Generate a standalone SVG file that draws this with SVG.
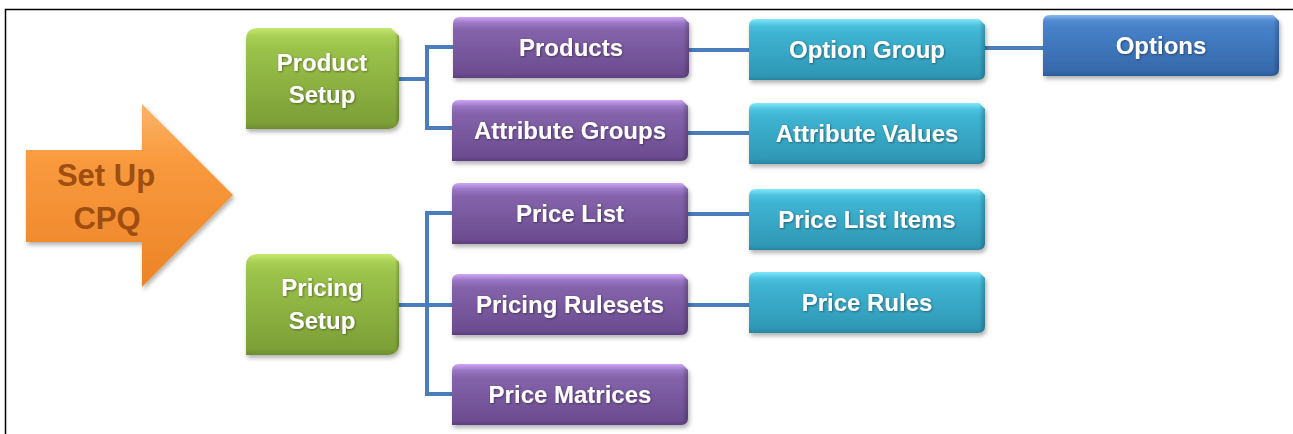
<svg xmlns="http://www.w3.org/2000/svg" xmlns:xlink="http://www.w3.org/1999/xlink" width="1293" height="434" viewBox="0 0 1293 434">
  <style>
    .lbl { font-family: "Liberation Sans", Arial, sans-serif; font-weight: 700; font-size: 24px; fill: #ffffff; text-anchor: middle; filter: url(#tshadow); }
    .big { font-family: "Liberation Sans", Arial, sans-serif; font-weight: 700; font-size: 31px; fill: #9e4e10; text-anchor: middle; }
    .conn { fill: none; stroke: #4a7dbb; stroke-width: 4; stroke-linejoin: miter; }
    .shade { filter: url(#shadow); }
    .edge { fill: url(#gEdge); }
  </style>
  <defs>
    <filter id="shadow" x="-10%" y="-20%" width="125%" height="150%">
      <feDropShadow dx="1.5" dy="3" stdDeviation="2" flood-color="#000" flood-opacity="0.3"/>
    </filter>
    <filter id="tshadow" x="-10%" y="-30%" width="120%" height="160%">
      <feDropShadow dx="0.8" dy="0.8" stdDeviation="0.8" flood-color="#000" flood-opacity="0.45"/>
    </filter>
    <linearGradient id="gEdge" x1="0" y1="0" x2="1" y2="0">
      <stop offset="0" stop-color="#000" stop-opacity="0"/>
      <stop offset="0.975" stop-color="#000" stop-opacity="0"/>
      <stop offset="1" stop-color="#000" stop-opacity="0.22"/>
    </linearGradient>
    <linearGradient id="gPurple" x1="0" y1="0" x2="0" y2="1">
      <stop offset="0" stop-color="#cfa6f5"/>
      <stop offset="0.1" stop-color="#9a78c6"/>
      <stop offset="0.22" stop-color="#8463ab"/>
      <stop offset="0.92" stop-color="#6c4c90"/>
      <stop offset="1" stop-color="#5d3f7f"/>
    </linearGradient>
    <linearGradient id="gTeal" x1="0" y1="0" x2="0" y2="1">
      <stop offset="0" stop-color="#7fe8fb"/>
      <stop offset="0.1" stop-color="#4fc3e0"/>
      <stop offset="0.22" stop-color="#3fb4d3"/>
      <stop offset="0.92" stop-color="#2f98b6"/>
      <stop offset="1" stop-color="#2786a2"/>
    </linearGradient>
    <linearGradient id="gBlue" x1="0" y1="0" x2="0" y2="1">
      <stop offset="0" stop-color="#86b6ee"/>
      <stop offset="0.1" stop-color="#528ad0"/>
      <stop offset="0.22" stop-color="#4680c8"/>
      <stop offset="0.92" stop-color="#3669ab"/>
      <stop offset="1" stop-color="#2c5b98"/>
    </linearGradient>
    <linearGradient id="gGreen" x1="0" y1="0" x2="0" y2="1">
      <stop offset="0" stop-color="#c6e86f"/>
      <stop offset="0.08" stop-color="#a9cf55"/>
      <stop offset="0.2" stop-color="#9bc24a"/>
      <stop offset="0.94" stop-color="#7d9f37"/>
      <stop offset="1" stop-color="#6d8c2e"/>
    </linearGradient>
    <linearGradient id="gOrange" x1="0" y1="0" x2="0" y2="1">
      <stop offset="0" stop-color="#fbb56a"/>
      <stop offset="0.3" stop-color="#f99a3e"/>
      <stop offset="1" stop-color="#ec8326"/>
    </linearGradient>
    <path id="box" d="M7,0 H230 L236,6 V54 Q236,61 229,61 H0 V7 Q0,0 7,0 Z"/>
    <path id="gbox" d="M12,0 H145 L153,8 V89 Q153,101 141,101 H0 V12 Q0,0 12,0 Z"/>
  </defs>

  <rect x="0" y="0" width="1293" height="434" fill="#ffffff"/>
  <path d="M5.5,434 V9.5 H1293" fill="none" stroke="#000" stroke-width="1.5"/>

  <g id="connectors">
    <path class="conn" d="M399,79 H427 M453,47 H427 V128 H453"/>
    <path class="conn" d="M399,305 H427 M452,213 H427 V394 H452 M427,305 H452"/>
    <path class="conn" d="M688,50 H749"/>
    <path class="conn" d="M985,48 H1044"/>
    <path class="conn" d="M688,133 H749"/>
    <path class="conn" d="M688,214 H749"/>
    <path class="conn" d="M688,305 H749"/>
  </g>

  <g id="setup-cpq">
    <polygon class="shade" points="26,150 142,150 142,104 233,195 142,287 142,242 26,242" fill="url(#gOrange)"/>
    <text class="big" x="106" y="186">Set Up</text>
    <text class="big" x="107" y="229">CPQ</text>
  </g>

  <g id="product-setup">
    <use class="shade" xlink:href="#gbox" href="#gbox" x="246" y="28" fill="url(#gGreen)"/>
    <use class="edge" xlink:href="#gbox" href="#gbox" x="246" y="28"/>
    <text class="lbl" x="322" y="71">Product</text>
    <text class="lbl" x="322" y="103">Setup</text>
  </g>

  <g id="pricing-setup">
    <use class="shade" xlink:href="#gbox" href="#gbox" x="246" y="254" fill="url(#gGreen)"/>
    <use class="edge" xlink:href="#gbox" href="#gbox" x="246" y="254"/>
    <text class="lbl" x="322" y="296">Pricing</text>
    <text class="lbl" x="322" y="329">Setup</text>
  </g>

  <g id="products">
    <use class="shade" xlink:href="#box" href="#box" x="453" y="17" fill="url(#gPurple)"/>
    <use class="edge" xlink:href="#box" href="#box" x="453" y="17"/>
    <text class="lbl" x="571" y="56">Products</text>
  </g>
  <g id="attribute-groups">
    <use class="shade" xlink:href="#box" href="#box" x="452" y="100" fill="url(#gPurple)"/>
    <use class="edge" xlink:href="#box" href="#box" x="452" y="100"/>
    <text class="lbl" x="570" y="139">Attribute Groups</text>
  </g>
  <g id="price-list">
    <use class="shade" xlink:href="#box" href="#box" x="452" y="183" fill="url(#gPurple)"/>
    <use class="edge" xlink:href="#box" href="#box" x="452" y="183"/>
    <text class="lbl" x="570" y="222">Price List</text>
  </g>
  <g id="pricing-rulesets">
    <use class="shade" xlink:href="#box" href="#box" x="452" y="274" fill="url(#gPurple)"/>
    <use class="edge" xlink:href="#box" href="#box" x="452" y="274"/>
    <text class="lbl" x="570" y="313">Pricing Rulesets</text>
  </g>
  <g id="price-matrices">
    <use class="shade" xlink:href="#box" href="#box" x="452" y="364" fill="url(#gPurple)"/>
    <use class="edge" xlink:href="#box" href="#box" x="452" y="364"/>
    <text class="lbl" x="570" y="403">Price Matrices</text>
  </g>

  <g id="option-group">
    <use class="shade" xlink:href="#box" href="#box" x="749" y="19" fill="url(#gTeal)"/>
    <use class="edge" xlink:href="#box" href="#box" x="749" y="19"/>
    <text class="lbl" x="867" y="58">Option Group</text>
  </g>
  <g id="attribute-values">
    <use class="shade" xlink:href="#box" href="#box" x="749" y="103" fill="url(#gTeal)"/>
    <use class="edge" xlink:href="#box" href="#box" x="749" y="103"/>
    <text class="lbl" x="867" y="142">Attribute Values</text>
  </g>
  <g id="price-list-items">
    <use class="shade" xlink:href="#box" href="#box" x="749" y="189" fill="url(#gTeal)"/>
    <use class="edge" xlink:href="#box" href="#box" x="749" y="189"/>
    <text class="lbl" x="867" y="228">Price List Items</text>
  </g>
  <g id="price-rules">
    <use class="shade" xlink:href="#box" href="#box" x="749" y="272" fill="url(#gTeal)"/>
    <use class="edge" xlink:href="#box" href="#box" x="749" y="272"/>
    <text class="lbl" x="867" y="311">Price Rules</text>
  </g>

  <g id="options">
    <use class="shade" xlink:href="#box" href="#box" x="1043" y="15" fill="url(#gBlue)"/>
    <use class="edge" xlink:href="#box" href="#box" x="1043" y="15"/>
    <text class="lbl" x="1161" y="54">Options</text>
  </g>
</svg>
